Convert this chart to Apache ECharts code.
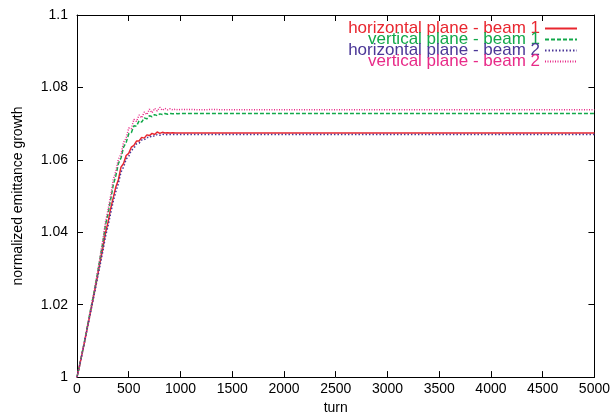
<!DOCTYPE html>
<html>
<head>
<meta charset="utf-8">
<script src="https://cdn.jsdelivr.net/npm/echarts@6/dist/echarts.min.js"></script>
<style>html,body{margin:0;padding:0;background:#fff;}#c{width:613px;height:420px;}</style>
</head>
<body>
<div id="c"></div>
<script>
const turns = [0,25,50,75,100,125,150,175,200,225,250,275,300,325,350,375,400,425,450,475,500,525,550,575,600,625,650,675,700,725,750,775,800,825,850,875,900,925,950,975,1000,1100,1200,1300,1500,2000,2500,3000,3500,4000,4500,5000];
const hBeam1 = [1.0000,1.0032,1.0066,1.0100,1.0137,1.0172,1.0208,1.0244,1.0282,1.0320,1.0356,1.0398,1.0428,1.0465,1.0495,1.0525,1.0545,1.0580,1.0590,1.0612,1.0618,1.0635,1.0640,1.0652,1.0652,1.0662,1.0660,1.0669,1.0667,1.0673,1.0670,1.0677,1.0673,1.0676,1.0674,1.0675,1.0674,1.0675,1.0674,1.0674,1.0674,1.0674,1.0674,1.0674,1.0674,1.0674,1.0674,1.0674,1.0674,1.0674,1.0674,1.0674];
const vBeam1 = [1.0000,1.0034,1.0067,1.0103,1.0139,1.0177,1.0213,1.0250,1.0290,1.0332,1.0372,1.0420,1.0452,1.0490,1.0530,1.0556,1.0590,1.0605,1.0635,1.0648,1.0672,1.0675,1.0694,1.0693,1.0708,1.0704,1.0716,1.0713,1.0722,1.0719,1.0725,1.0722,1.0727,1.0725,1.0728,1.0726,1.0728,1.0727,1.0728,1.0727,1.0728,1.0728,1.0728,1.0728,1.0728,1.0728,1.0728,1.0728,1.0728,1.0728,1.0728,1.0728];
const hBeam2 = [1.0000,1.0031,1.0065,1.0099,1.0135,1.0170,1.0205,1.0240,1.0276,1.0312,1.0348,1.0388,1.0418,1.0452,1.0485,1.0512,1.0535,1.0566,1.0580,1.0602,1.0610,1.0626,1.0632,1.0644,1.0646,1.0655,1.0655,1.0662,1.0661,1.0667,1.0665,1.0670,1.0668,1.0671,1.0669,1.0670,1.0670,1.0670,1.0670,1.0670,1.0670,1.0670,1.0670,1.0670,1.0670,1.0670,1.0670,1.0670,1.0670,1.0670,1.0670,1.0670];
const vBeam2 = [1.0000,1.0033,1.0068,1.0102,1.0140,1.0176,1.0214,1.0252,1.0292,1.0335,1.0378,1.0428,1.0462,1.0500,1.0545,1.0568,1.0602,1.0615,1.0648,1.0660,1.0688,1.0686,1.0712,1.0706,1.0724,1.0716,1.0732,1.0725,1.0740,1.0730,1.0742,1.0735,1.0745,1.0737,1.0742,1.0738,1.0741,1.0738,1.0740,1.0738,1.0739,1.0739,1.0738,1.0739,1.0738,1.0738,1.0738,1.0738,1.0738,1.0738,1.0738,1.0738];
const seriesNames = ['horizontal plane - beam 1','vertical plane - beam 1','horizontal plane - beam 2','vertical plane - beam 2'];
const seriesColors = ['#e8262f','#12a84a','#4b3797','#e82a88'];
const seriesDash = ['solid',[4,2],[1.5,2],[1,1.5]];
const seriesValues = [hBeam1, vBeam1, hBeam2, vBeam2];

const FONT = 'Liberation Sans';
const axisCommon = {
  type: 'value', min: 0, max: 5000, interval: 500,
  axisLine: {show: true, onZero: false, lineStyle: {color: '#000', width: 1}},
  axisTick: {show: true, inside: true, length: 6, lineStyle: {color: '#000'}},
  splitLine: {show: false}
};
const yCommon = {
  type: 'value', min: 1, max: 1.1, interval: 0.02,
  axisLine: {show: true, onZero: false, lineStyle: {color: '#000', width: 1}},
  axisTick: {show: true, inside: true, length: 6, lineStyle: {color: '#000'}},
  splitLine: {show: false}
};
const chart = echarts.init(document.getElementById('c'), null, {renderer: 'canvas'});
chart.setOption({
  animation: false,
  backgroundColor: '#fff',
  grid: {left: 77, right: 16, top: 15, bottom: 38, containLabel: false},
  legend: {
    orient: 'vertical', right: 35, top: 20, align: 'right', padding: 0,
    itemWidth: 32, itemHeight: 11, itemGap: -6,
    itemStyle: {opacity: 0},
    textStyle: {fontFamily: FONT, fontSize: 17, color: 'inherit'},
    data: seriesNames.map((n, i) => ({name: n, textStyle: {color: seriesColors[i]}}))
  },
  xAxis: [
    Object.assign({}, axisCommon, {position: 'bottom', name: 'turn', nameLocation: 'middle', nameGap: 20,
      nameTextStyle: {fontFamily: FONT, fontSize: 14, color: '#000'},
      axisLabel: {fontFamily: FONT, fontSize: 14, color: '#000', margin: 5, formatter: v => String(v)}}),
    Object.assign({}, axisCommon, {position: 'top', axisLabel: {show: false}})
  ],
  yAxis: [
    Object.assign({}, yCommon, {position: 'left', name: 'normalized emittance growth', nameLocation: 'middle', nameGap: 52,
      nameTextStyle: {fontFamily: FONT, fontSize: 14, color: '#000'},
      axisLabel: {fontFamily: FONT, fontSize: 14, color: '#000', margin: 9,
        formatter: v => String(Number(v.toFixed(2)))}}),
    Object.assign({}, yCommon, {position: 'right', axisLabel: {show: false}})
  ],
  series: seriesValues.map((vals, i) => ({
    name: seriesNames[i], type: 'line', symbol: 'none', showSymbol: false,
    xAxisIndex: 0, yAxisIndex: 0,
    data: turns.map((t, k) => [t, vals[k]]),
    lineStyle: {color: seriesColors[i], width: 1.5, type: seriesDash[i]},
    itemStyle: {color: seriesColors[i]}
  }))
});
</script>
</body>
</html>
